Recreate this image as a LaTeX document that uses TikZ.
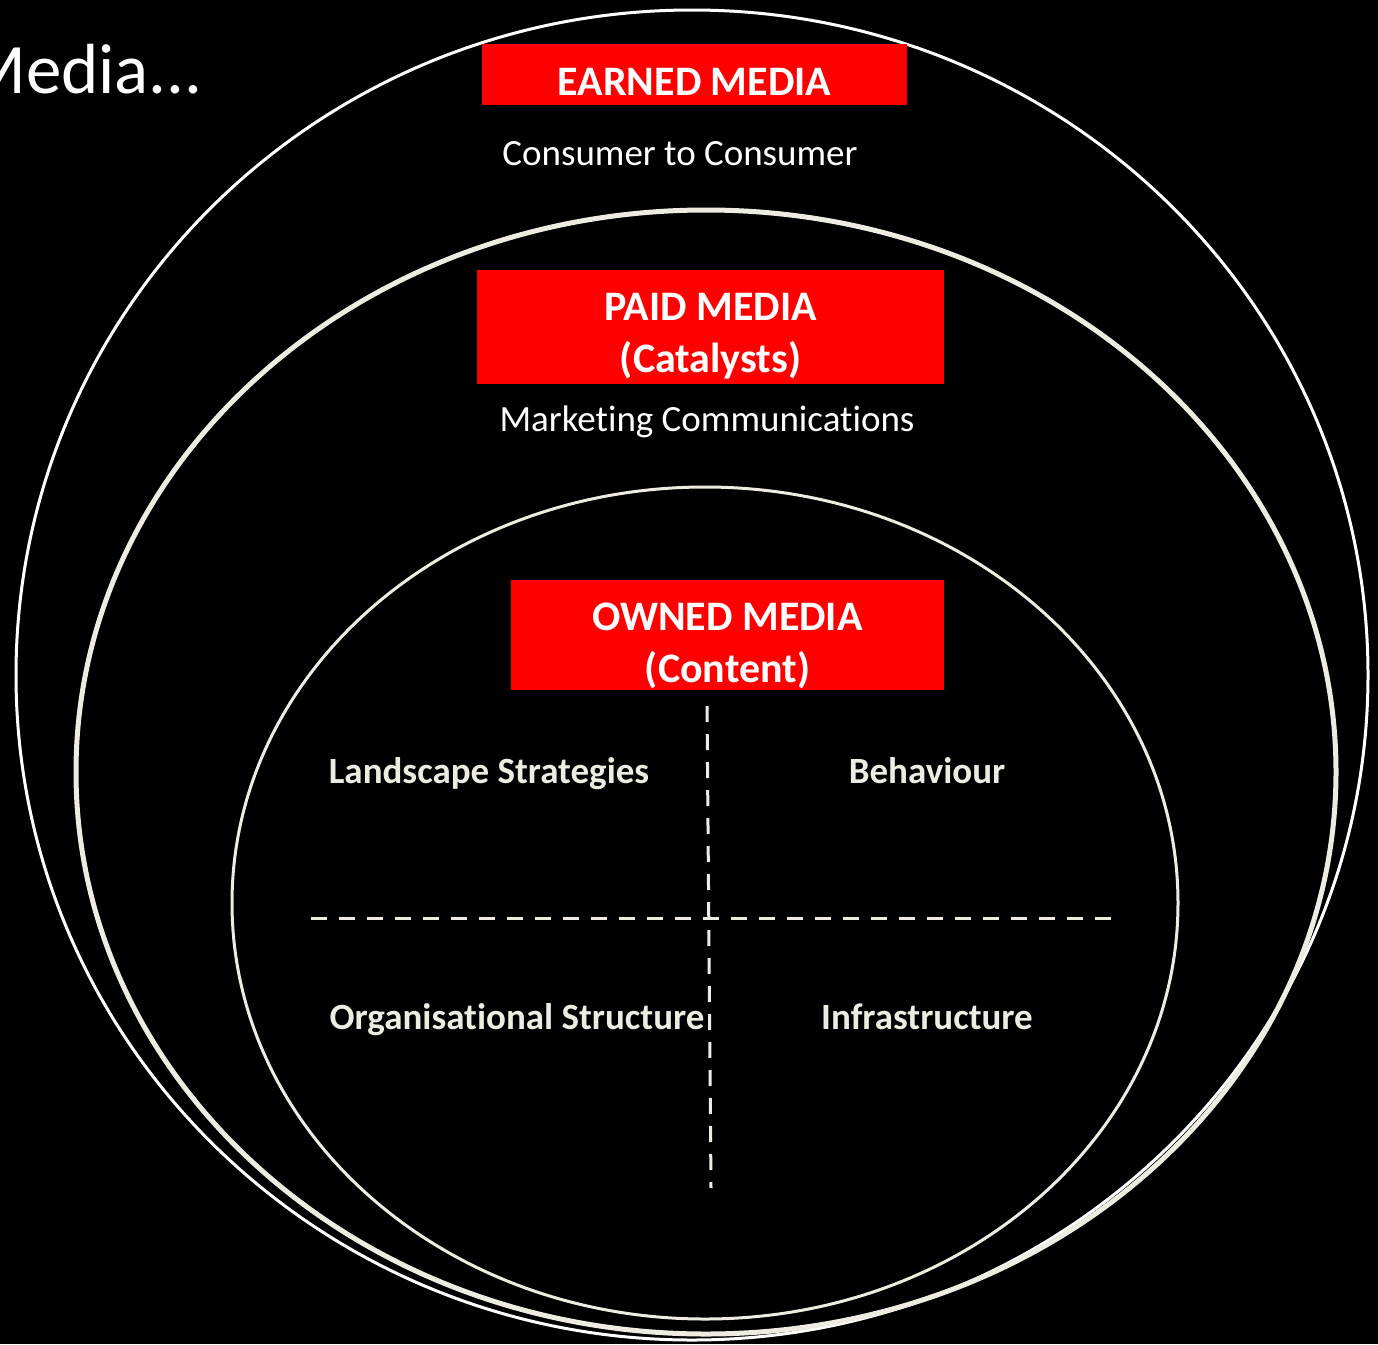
\documentclass[tikz,border=0pt]{standalone}
\usepackage{fontspec}
\setmainfont{Carlito}[Ligatures=NoCommon]
\usetikzlibrary{positioning}
\definecolor{mediared}{HTML}{FF0000}
\definecolor{cream}{HTML}{EEECE1}
\tikzset{
  ring/.style={draw=cream, line width=3pt},
  tagbox/.style={fill=mediared, inner sep=0pt},
  tag/.style={text=white, align=center, inner sep=0pt, anchor=base,
    font=\bfseries\fontsize{42}{52}\selectfont},
  caption/.style={text=white, inner sep=0pt, anchor=base, font=\fontsize{37}{44}\selectfont},
  quad/.style={text=cream, inner sep=0pt, anchor=base, font=\bfseries\fontsize{37}{44}\selectfont},
  divider/.style={draw=cream, line width=3pt, dash pattern=on 16pt off 12pt}
}

\begin{document}
\begin{tikzpicture}[x=1pt, y=-1pt]
  \useasboundingbox (0,0) rectangle (1378,1344);
  \fill[black] (0,0) rectangle (1378,1344);
  \clip (0,0) rectangle (1378,1344);

  % title, cut off at the left edge
  \node[text=white, inner sep=0pt, anchor=base east,
    font=\fontsize{71}{78}\selectfont] (title) at (203,93) {Media...};

  % the three media rings
  \draw[ring, draw=white] (692,675) ellipse [x radius=676, y radius=665];
  \draw[ring, line width=5pt] (706,772) ellipse [x radius=630, y radius=562];
  \draw[ring] (705,903) ellipse [x radius=473, y radius=416];

  % ring headings
  \node[tagbox, minimum width=425pt, minimum height=61pt] (earned) at (694.5,74.5) {};
  \node[tagbox, minimum width=467pt, minimum height=114pt] (paid) at (710.5,327) {};
  \node[tagbox, minimum width=433pt, minimum height=110pt] (owned) at (727.5,635) {};
  \node[tag] (earnedtxt) at (694.5,95) {EARNED MEDIA};
  \node[tag] (paidtxt) at (710.5,372) {PAID MEDIA\\(Catalysts)};
  \node[tag] (ownedtxt) at (727.5,682) {OWNED MEDIA\\(Content)};

  \node[caption] (c2c) at (680,165) {Consumer to Consumer};
  \node[caption] (marcom) at (707,431) {Marketing Communications};

  % quadrants of owned media
  \coordinate (vtop) at (707,706);
  \coordinate (vbot) at (711,1188);
  \coordinate (hleft) at (311,918);
  \coordinate (hright) at (1112,918);
  \draw[divider] (vtop) -- (vbot);
  \draw[divider] (hleft) -- (hright);

  \node[quad] (landscape) at (489,783) {Landscape Strategies};
  \node[quad] (behaviour) at (927,783) {Behaviour};
  \node[quad] (orgstruct) at (517,1029) {Organisational Structure};
  \node[quad] (infra) at (927,1029) {Infrastructure};
\end{tikzpicture}
\end{document}
